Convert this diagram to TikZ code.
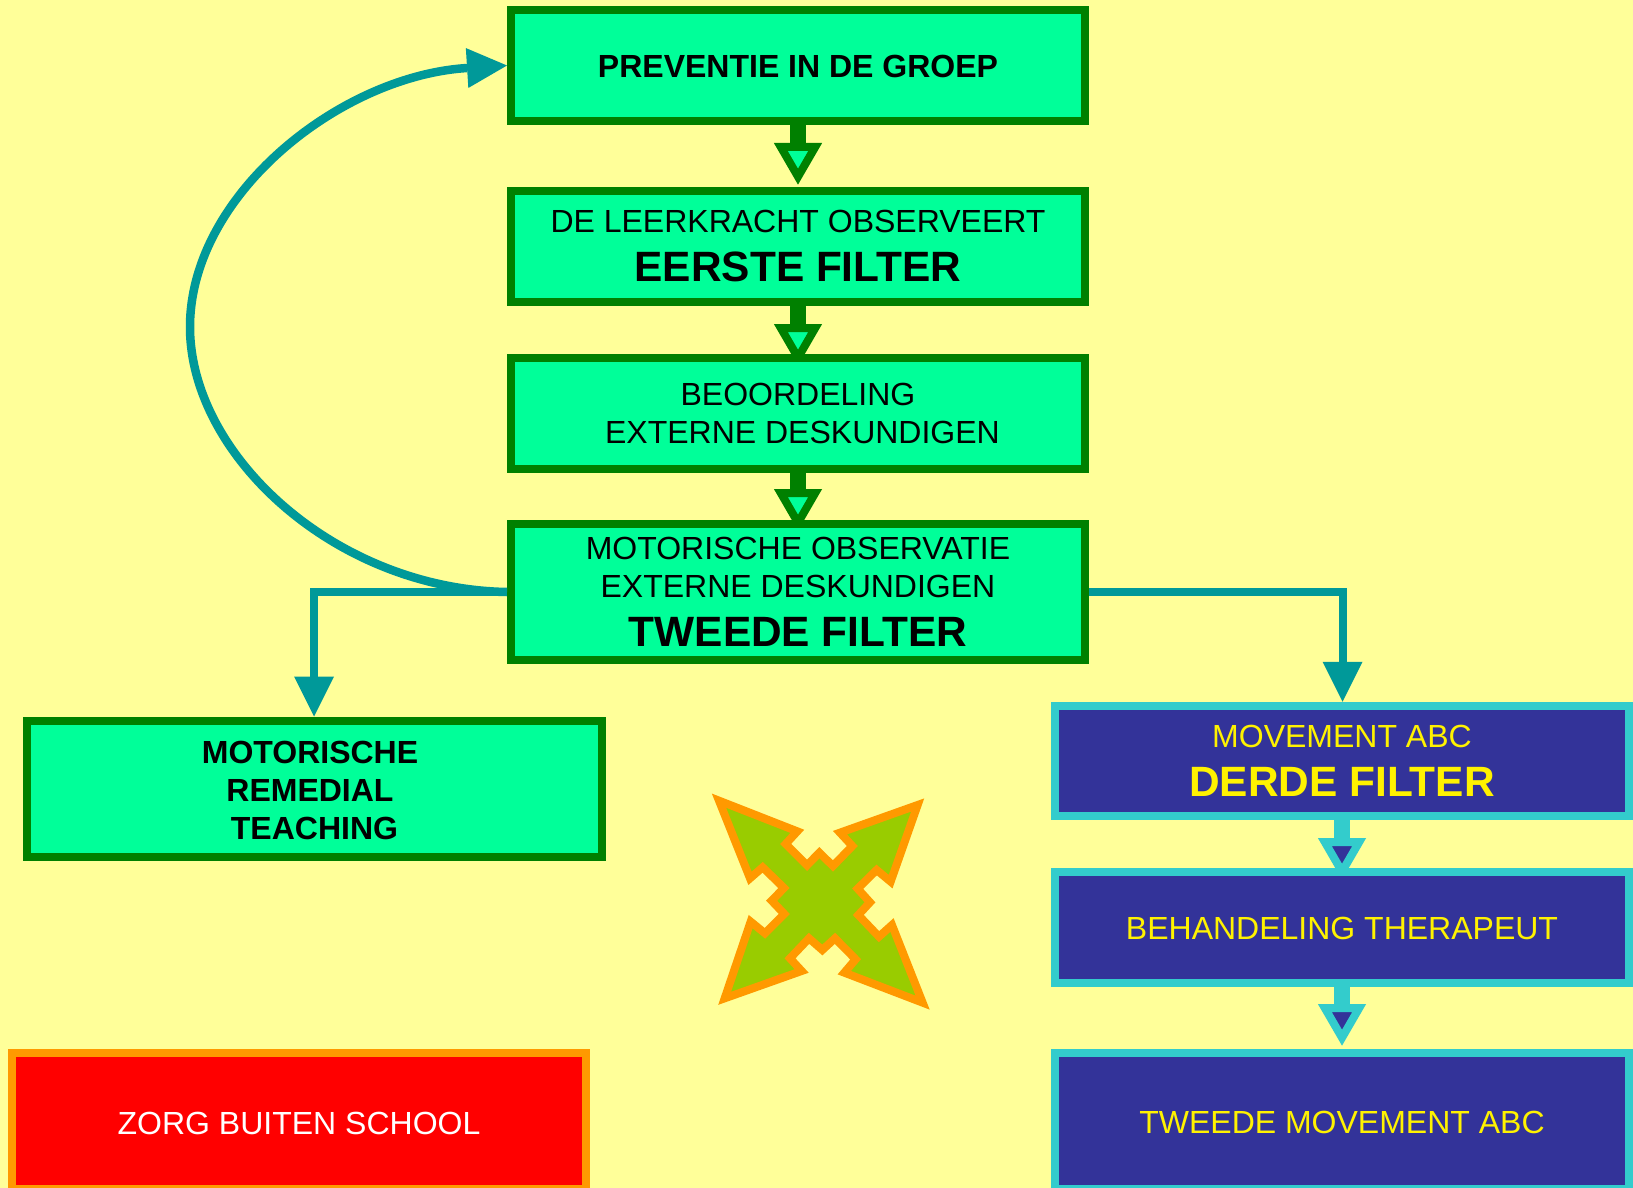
\documentclass[tikz,border=0pt]{standalone}
\usepackage{fontspec}
\setmainfont{Liberation Sans}
\usetikzlibrary{arrows.meta}
\definecolor{bgy}{HTML}{FFFF99}
\definecolor{spring}{HTML}{00FF99}
\definecolor{dgreen}{HTML}{008000}
\definecolor{navy}{HTML}{333399}
\definecolor{cyanb}{HTML}{33CCCC}
\definecolor{tealc}{HTML}{009999}
\definecolor{orangeb}{HTML}{FF9900}
\definecolor{starg}{HTML}{99CC00}
\newcommand{\txt}{\fontsize{32}{38}\selectfont}
\newcommand{\bigf}{\fontsize{42.4}{44}\selectfont\bfseries}
\newcommand{\lead}{\hspace*{9pt}}
\newcommand{\nudge}[1]{\rule{0pt}{#1}}
\pgfdeclarelayer{under}
\pgfsetlayers{under,main}
\tikzset{
 x=1pt,y=-1pt,
 box/.style={draw,line width=8pt,rectangle,inner sep=0pt,align=center,font=\txt},
 gbox/.style={box,draw=dgreen,fill=spring,text=black,minimum width=574pt},
 bbox/.style={box,draw=cyanb,fill=navy,text=yellow,minimum width=574pt},
 rbox/.style={box,draw=orangeb,fill=red,text=white,minimum width=574pt},
 gflow/.style={draw=dgreen,line width=16pt,-{Triangle[length=42pt,width=46pt,fill=spring,line width=8pt]}},
 bflow/.style={draw=cyanb,line width=16pt,-{Triangle[length=42pt,width=46pt,fill=navy,line width=8pt]}},
 tflow/.style={draw=tealc,line width=8pt,-{Triangle[length=40pt,width=40pt,fill=tealc,line width=0pt]}},
}
\begin{document}
\begin{tikzpicture}
\useasboundingbox (0,0) rectangle (1633,1188);
\node[gbox,minimum height=111pt] (b1) at (798,65.5) {\nudge{24.5pt}\bfseries PREVENTIE IN DE GROEP};
\node[gbox,minimum height=111pt] (b2) at (798,246.5) {DE LEERKRACHT OBSERVEERT\\[11pt]{\bigf EERSTE FILTER}};
\node[gbox,minimum height=111pt] (b3) at (798,413.5) {BEOORDELING\\\lead EXTERNE DESKUNDIGEN};
\node[gbox,minimum height=136pt] (b4) at (798,592) {MOTORISCHE OBSERVATIE\\EXTERNE DESKUNDIGEN\\[11pt]{\bigf TWEEDE FILTER}};
\node[gbox,minimum height=136pt,minimum width=575pt] (rem) at (314.5,788.5) {\nudge{26pt}\mbox{\bfseries MOTORISCHE\hspace{9pt}}\\\mbox{\bfseries REMEDIAL\hspace{9pt}}\\\mbox{\bfseries TEACHING}};
\node[bbox,minimum height=110.5pt] (c1) at (1342,761) {MOVEMENT ABC\\[11pt]{\bigf DERDE FILTER}};
\node[bbox,minimum height=111pt] (c2) at (1342,927.5) {\nudge{24.5pt}BEHANDELING THERAPEUT};
\node[bbox,minimum height=136pt] (c3) at (1342,1121) {\nudge{24.5pt}TWEEDE MOVEMENT ABC};
\node[rbox,minimum height=136pt] (red) at (299,1121) {\nudge{26.5pt}ZORG BUITEN SCHOOL};
\begin{pgfonlayer}{under}
\fill[bgy] (0,0) rectangle (1633,1188);
\draw[gflow,shorten >=2pt] (b1) -- (b2);
\draw[gflow,shorten >=-12pt] (b2) -- (b3);
\draw[gflow,shorten >=-11pt] (b3) -- (b4);
\draw[bflow,shorten >=-12pt] (c1) -- (c2);
\draw[bflow,shorten >=3pt] (c2) -- (c3);
\end{pgfonlayer}
\coordinate (hl) at (314,592);
\coordinate (hr) at (1342.5,592);
\draw[tflow] (b4.west) -- (hl) -- (rem.north -| hl);
\draw[tflow] (b4.east) -- (hr) -- (c1.north -| hr);
\draw[tflow,line width=8.5pt] (b4.west) .. controls (335,589) and (190,455) .. (190,327) .. controls (190,195) and (340,76) .. (b1.west);
\begin{scope}[shift={(690,770)},x=0.3333pt,y=-0.3333pt]
\draw[fill=starg,draw=orangeb,line width=8pt,line join=miter]
 (87,92)--(322,184)--(287,222)--(351,286)--(388,248)--(429,288)--(487,228)--(450,188)
 --(683,105)--(602,335)--(560,300)--(503,356)--(540,397)--(505,435)--(567,500)--(606,465)
 --(698,698)--(463,608)--(497,568)--(435,505)--(397,540)--(357,505)--(300,565)--(335,603)
 --(104,685)--(182,455)--(225,490)--(283,432)--(245,392)--(282,354)--(218,292)--(180,325)--cycle;
\end{scope}
\end{tikzpicture}
\end{document}
